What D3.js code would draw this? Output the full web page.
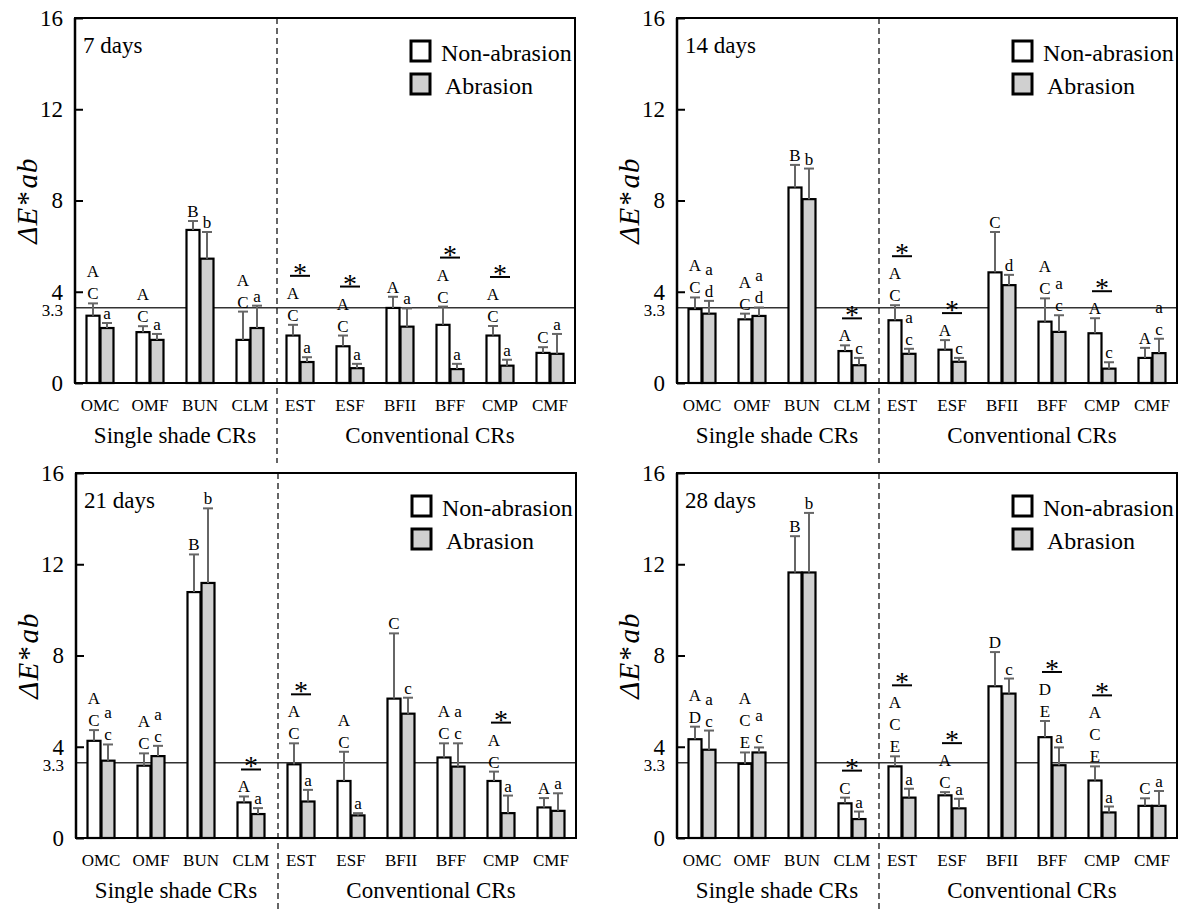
<!DOCTYPE html>
<html>
<head>
<meta charset="utf-8">
<style>
  body { margin: 0; background: #fff; }
  svg text { font-family: "Liberation Serif", "Times New Roman", serif !important; fill: #000; }
  .yaxis .domain { stroke: none; }
  .yaxis line { stroke: #000; stroke-width: 2; }
</style>
<script src="https://d3js.org/d3.v7.min.js"></script>
</head>
<body>
<svg id="chart" width="1182" height="909" font-family="Liberation Serif, serif"></svg>
<script>
// categories and groups
const categories = ["OMC", "OMF", "BUN", "CLM", "EST", "ESF", "BFII", "BFF", "CMP", "CMF"];
const groupNames = ["Single shade CRs", "Conventional CRs"];
const groupSizes = [4, 6];
const panelTitles = ["7 days", "14 days", "21 days", "28 days"];
const seriesNames = ["Non-abrasion", "Abrasion"];
const yTicks = [0, 4, 8, 12, 16];
const refLevel = 3.3;

// 7 days
const non7 = [2.95, 2.23, 6.71, 1.89, 2.08, 1.61, 3.29, 2.55, 2.08, 1.32];
const non7Sd = [0.54, 0.26, 0.39, 1.24, 0.47, 0.47, 0.49, 0.80, 0.42, 0.25];
const abr7 = [2.41, 1.89, 5.45, 2.41, 0.92, 0.65, 2.47, 0.61, 0.76, 1.28];
const abr7Sd = [0.22, 0.26, 1.17, 0.98, 0.21, 0.19, 0.80, 0.23, 0.26, 0.87];
const non7Letters = ["AC", "AC", "B", "AC", "AC", "AC", "A", "AC", "AC", "C"];
const abr7Letters = ["a", "a", "b", "a", "a", "a", "a", "a", "a", "a"];
const stars7 = ["EST", "ESF", "BFF", "CMP"];

// 14 days
const non14 = [3.24, 2.79, 8.57, 1.40, 2.75, 1.46, 4.85, 2.69, 2.18, 1.10];
const non14Sd = [0.51, 0.25, 0.99, 0.25, 0.66, 0.42, 1.77, 1.02, 0.66, 0.44];
const abr14 = [3.04, 2.94, 8.06, 0.78, 1.28, 0.93, 4.29, 2.24, 0.63, 1.31];
const abr14Sd = [0.56, 0.37, 1.34, 0.32, 0.22, 0.17, 0.45, 0.73, 0.28, 0.63];
const non14Letters = ["AC", "AC", "B", "A", "AC", "A", "C", "AC", "A", "A"];
const abr14Letters = ["ad", "ad", "b", "c", "ac", "c", "d", "ac", "c", "ac"];
const stars14 = ["CLM", "EST", "ESF", "CMP"];

// 21 days
const non21 = [4.26, 3.17, 10.78, 1.56, 3.23, 2.50, 6.11, 3.53, 2.50, 1.34];
const non21Sd = [0.47, 0.54, 1.65, 0.26, 0.92, 1.28, 2.86, 0.62, 0.41, 0.41];
const abr21 = [3.39, 3.59, 11.18, 1.05, 1.60, 0.99, 5.45, 3.13, 1.09, 1.19];
const abr21Sd = [0.71, 0.45, 3.27, 0.26, 0.51, 0.10, 0.70, 1.02, 0.77, 0.77];
const non21Letters = ["AC", "AC", "B", "A", "AC", "AC", "C", "AC", "AC", "A"];
const abr21Letters = ["ac", "ac", "b", "a", "a", "a", "c", "ac", "a", "a"];
const stars21 = ["CLM", "EST", "CMP"];

// 28 days
const non28 = [4.33, 3.25, 11.64, 1.52, 3.14, 1.87, 6.65, 4.42, 2.52, 1.41];
const non28Sd = [0.55, 0.50, 1.59, 0.25, 0.44, 0.14, 1.50, 0.71, 0.62, 0.33];
const abr28 = [3.87, 3.75, 11.64, 0.83, 1.77, 1.30, 6.33, 3.19, 1.12, 1.41];
const abr28Sd = [0.84, 0.22, 2.61, 0.33, 0.39, 0.42, 0.66, 0.78, 0.26, 0.65];
const non28Letters = ["AD", "ACE", "B", "C", "ACE", "AC", "D", "DE", "ACE", "C"];
const abr28Letters = ["ac", "ac", "b", "a", "a", "a", "c", "a", "a", "a"];
const stars28 = ["CLM", "EST", "ESF", "BFF", "CMP"];

const panels = [
  {title: panelTitles[0], non: non7, nonSd: non7Sd, abr: abr7, abrSd: abr7Sd, nonL: non7Letters, abrL: abr7Letters, stars: stars7, left: 75, top: 18},
  {title: panelTitles[1], non: non14, nonSd: non14Sd, abr: abr14, abrSd: abr14Sd, nonL: non14Letters, abrL: abr14Letters, stars: stars14, left: 677, top: 18},
  {title: panelTitles[2], non: non21, nonSd: non21Sd, abr: abr21, abrSd: abr21Sd, nonL: non21Letters, abrL: abr21Letters, stars: stars21, left: 76, top: 473},
  {title: panelTitles[3], non: non28, nonSd: non28Sd, abr: abr28, abrSd: abr28Sd, nonL: non28Letters, abrL: abr28Letters, stars: stars28, left: 677, top: 473}
];

const serif = "'Liberation Serif', 'Times New Roman', serif";
const svg = d3.select("svg#chart");
const plotW = 500, plotH = 365;
const barW = 13, gap = 1;
const fills = ["#ffffff", "#d0d0d0"];

function label(g, x, y, txt, size, anchor) {
  return g.append("text")
    .attr("x", x).attr("y", y)
    .attr("text-anchor", anchor || "start")
    .style("font-family", serif)
    .style("font-size", size + "px")
    .text(txt);
}

panels.forEach(p => {
  const g = svg.append("g").attr("transform", "translate(" + p.left + "," + p.top + ")");
  const x = d3.scaleBand().domain(categories).range([0, plotW]);
  const y = d3.scaleLinear().domain([0, 16]).range([plotH, 0]);
  const bw = x.bandwidth();

  // y axis with inward ticks
  g.append("g").attr("class", "yaxis").attr("font-family", serif)
    .call(d3.axisLeft(y).tickValues(yTicks).tickSize(-8).tickPadding(12))
    .selectAll("text").style("font-size", "23px").style("font-family", serif);

  // 3.3 reference
  g.append("line")
    .attr("x1", 0).attr("x2", plotW)
    .attr("y1", y(refLevel)).attr("y2", y(refLevel))
    .attr("stroke", "#333").attr("stroke-width", 1.5);
  label(g, -12, y(refLevel) + 8, refLevel, 17, "end");

  // dashed divider between groups
  const divX = x(categories[groupSizes[0]]) + 2;
  g.append("line")
    .attr("x1", divX).attr("x2", divX)
    .attr("y1", 0).attr("y2", plotH + 80)
    .attr("stroke", "#000").attr("stroke-width", 1.2)
    .attr("stroke-dasharray", "6,4");

  categories.forEach((c, i) => {
    const cx = x(c) + bw / 2;
    const xs = [cx - barW - gap / 2, cx + gap / 2];
    const vals = [p.non[i], p.abr[i]];
    const sds = [p.nonSd[i], p.abrSd[i]];
    const lets = [p.nonL[i], p.abrL[i]];
    let topY = [];

    vals.forEach((v, k) => {
      g.append("rect")
        .attr("x", xs[k]).attr("y", y(v))
        .attr("width", barW).attr("height", plotH - y(v))
        .attr("fill", fills[k]).attr("stroke", "#000").attr("stroke-width", 2.2);
    });

    vals.forEach((v, k) => {
      const mx = xs[k] + barW / 2;
      const e = y(v + sds[k]);
      g.append("line").attr("x1", mx).attr("x2", mx).attr("y1", y(v)).attr("y2", e)
        .attr("stroke", "#666").attr("stroke-width", 2);
      g.append("line").attr("x1", mx - 5).attr("x2", mx + 5).attr("y1", e).attr("y2", e)
        .attr("stroke", "#666").attr("stroke-width", 2);

      // letters, listed top to bottom
      const chars = lets[k].split("");
      chars.forEach((ch, j) => {
        const fromBottom = chars.length - 1 - j;
        label(g, mx, e - 4 - fromBottom * 22, ch, 17, "middle");
      });
      topY.push(e - 4 - (chars.length - 1) * 22 - 12);
    });

    if (p.stars.includes(c)) {
      const ly = d3.min(topY) - 11;
      g.append("line").attr("x1", cx - 10).attr("x2", cx + 10).attr("y1", ly).attr("y2", ly)
        .attr("stroke", "#000").attr("stroke-width", 2);
      label(g, cx, ly + 6, "*", 28, "middle");
    }

    // category label
    label(g, cx, plotH + 28, c, 17, "middle");
  });

  // group labels
  let start = 0;
  groupNames.forEach((name, k) => {
    const a = x(categories[start]);
    const b = x(categories[start + groupSizes[k] - 1]) + bw;
    label(g, (a + b) / 2 + (k === 1 ? 5 : 0), plotH + 60, name, 23, "middle");
    start += groupSizes[k];
  });

  // frame
  g.append("rect").attr("x", 0).attr("y", 0).attr("width", plotW).attr("height", plotH)
    .attr("fill", "none").attr("stroke", "#000").attr("stroke-width", 2);
  g.append("line").attr("x1", 0).attr("x2", 0).attr("y1", 0).attr("y2", plotH)
    .attr("stroke", "#000").attr("stroke-width", 2.5);

  // title
  label(g, 8, 35, p.title, 23);

  // legend
  seriesNames.forEach((s, k) => {
    g.append("rect").attr("x", 336).attr("y", 23 + k * 33).attr("width", 19).attr("height", 20)
      .attr("fill", fills[k]).attr("stroke", "#000").attr("stroke-width", 3);
    label(g, 366 + k * 4, 43 + k * 33, s, 24);
  });

  // y title
  const yt = g.append("text")
    .attr("transform", "translate(-38," + (plotH / 2) + ") rotate(-90)")
    .attr("text-anchor", "middle")
    .style("font-family", serif)
    .style("font-size", "29px").style("font-style", "italic")
    .style("letter-spacing", "1px");
  yt.append("tspan").text("ΔE*");
  yt.append("tspan").attr("dx", 3).text("ab");
});
</script>
</body>
</html>
